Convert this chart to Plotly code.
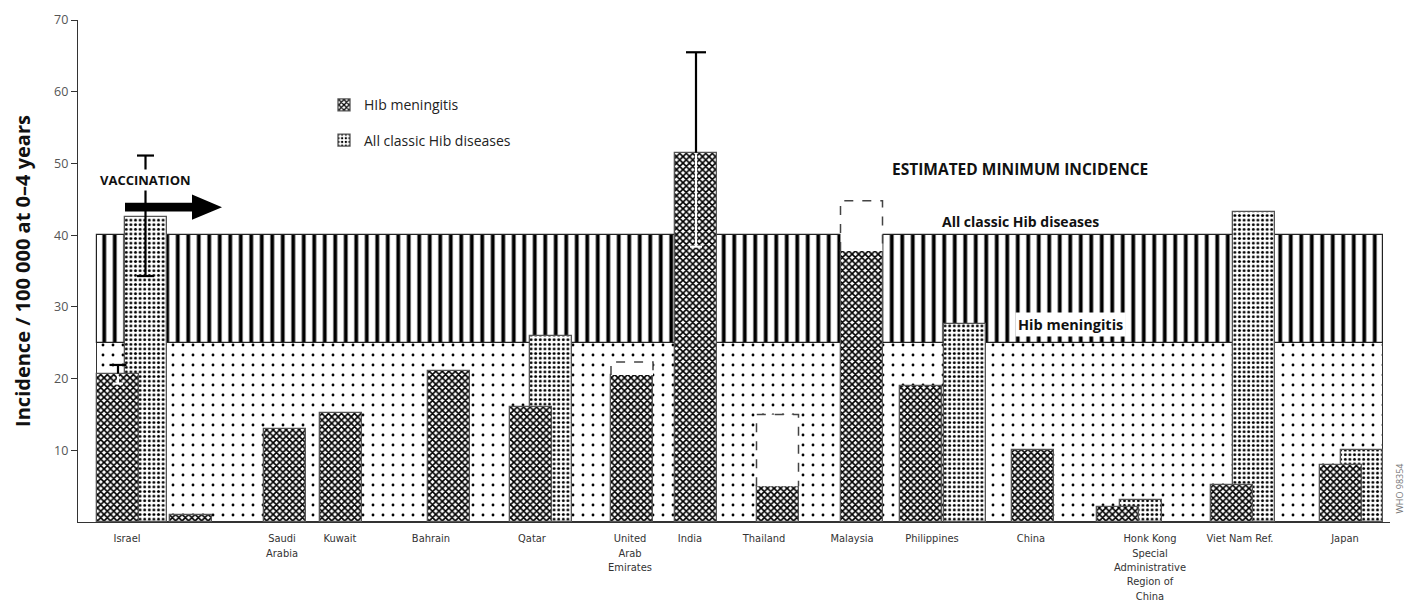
import plotly.graph_objects as go

# ---------------- data ----------------
countries = ["Israel", "", "Saudi<br>Arabia", "Kuwait", "Bahrain", "Qatar",
             "United<br>Arab<br>Emirates", "India", "Thailand", "Malaysia",
             "Philippines", "China",
             "Honk Kong<br>Special<br>Administrative<br>Region of<br>China",
             "Viet Nam Ref.", "Japan"]
meningitis = [20.7, 1.0, 12.9, 15.2, 21.0, 16.0, 20.5, 51.5, 5.0, 37.8, 18.9, 10.0, 2.1, 5.2, 8.0]
all_classic = [42.5, None, None, None, None, 26.0, None, None, None, None, 27.6, None, 3.1, 43.2, 10.1]
meningitis_upper_est = [None, None, None, None, None, None, 22.3, None, 15.0, 44.8, None, None, None, None, None]
meningitis_ci_low = [19.3, None, None, None, None, None, None, 38.4, None, None, None, None, None, None, None]
meningitis_ci_high = [21.9, None, None, None, None, None, None, 65.5, None, None, None, None, None, None, None]
classic_ci_low = [34.3, None, None, None, None, None, None, None, None, None, None, None, None, None, None]
classic_ci_high = [51.1, None, None, None, None, None, None, None, None, None, None, None, None, None, None]
est_min_meningitis = 25.0
est_min_classic = 40.0
y_ticks = [10, 20, 30, 40, 50, 60, 70]

# ---------------- layout positions (x axis in page-pixel-like units) ----------------
group_x = [118, 191, 284.5, 341, 448.5, 530.5, 632, 696, 777.5, 861.5, 920.5, 1033, 1118, 1232, 1341]
classic_dx = [27.5, 0, 0, 0, 0, 20, 0, 0, 0, 0, 44, 0, 23, 21.5, 20.5]
label_x = [127, None, 282, 340, 431, 532, 630, 690, 764, 852, 932, 1031, 1150, 1240, 1345]
BW = 42
X0, X1 = 78, 1390
PAGE_OFF = 8            # default body margin of the page
FIG_W, FIG_H = 1415 - PAGE_OFF, 603 - PAGE_OFF

OUT = "#555555"
FONT = "Open Sans, Noto Sans, sans-serif"
NARROW = "Liberation Sans Narrow, DejaVu Sans Condensed, Roboto, sans-serif"

fig = go.Figure()

# background bands: estimated minimum incidence
band_left = group_x[0] - BW / 2
band_right = group_x[-1] + classic_dx[-1] + BW / 2
band_c = (band_left + band_right) / 2
band_w = band_right - band_left
fig.add_trace(go.Bar(
    x=[band_c], y=[est_min_meningitis], base=[0], width=[band_w],
    marker=dict(color="white", line=dict(color="#333", width=1),
                pattern=dict(shape=".", fgcolor="black", bgcolor="white",
                             size=10, solidity=0.065, fillmode="replace")),
    showlegend=False, hoverinfo="skip"))
fig.add_trace(go.Bar(
    x=[band_c], y=[est_min_classic - est_min_meningitis], base=[est_min_meningitis], width=[band_w],
    marker=dict(color="white", line=dict(color="#222", width=1.2),
                pattern=dict(shape="|", fgcolor="black", bgcolor="white",
                             size=10.5, solidity=0.36, fillmode="replace")),
    showlegend=False, hoverinfo="skip"))

# all classic Hib disease bars (behind meningitis bars)
cx, cy = [], []
for gx, dx, v in zip(group_x, classic_dx, all_classic):
    if v is not None:
        cx.append(gx + dx)
        cy.append(v)
fig.add_trace(go.Bar(
    x=cx, y=cy, width=[BW] * len(cx), name="All classic Hib diseases", legendrank=2,
    legendgroup="b",
    marker=dict(color="white", line=dict(color=OUT, width=1.3),
                pattern=dict(shape=".", fgcolor="black", bgcolor="white",
                             size=4.6, solidity=0.32, fillmode="replace"))))

# meningitis bars
fig.add_trace(go.Bar(
    x=group_x, y=meningitis, width=[BW] * len(group_x), name="HIb meningitis", legendrank=1,
    legendgroup="a",
    marker=dict(color="white", line=dict(color=OUT, width=1.3),
                pattern=dict(shape="x", fgcolor="black", bgcolor="white",
                             size=4.6, solidity=0.58, fillmode="replace"))))

# dashed boxes (upper estimate)
for gx, v, u in zip(group_x, meningitis, meningitis_upper_est):
    if u is None:
        continue
    l, r = gx - BW / 2, gx + BW / 2
    fig.add_trace(go.Scatter(
        x=[l, l, r, r], y=[v, u, u, v], mode="lines", fill="toself", fillcolor="white",
        line=dict(color="#444", width=1.5, dash="dash"), showlegend=False, hoverinfo="skip"))

# error bars
blk_x, blk_y, wht_x, wht_y = [], [], [], []


def add_err(xc, val, lo, hi, cap, white_inside):
    blk_x.extend([xc, xc, None, xc - cap, xc + cap, None])
    blk_y.extend([val if white_inside else lo, hi, None, hi, hi, None])
    if white_inside:
        wht_x.extend([xc, xc, None, xc - cap * 0.6, xc + cap * 0.6, None])
        wht_y.extend([lo, val - 0.25, None, lo, lo, None])
    else:
        blk_x.extend([xc - cap, xc + cap, None])
        blk_y.extend([lo, lo, None])


for i, gx in enumerate(group_x):
    if meningitis_ci_low[i] is not None:
        add_err(gx, meningitis[i], meningitis_ci_low[i], meningitis_ci_high[i],
                10 if i == 7 else 8.5, True)
    if classic_ci_low[i] is not None:
        add_err(gx + classic_dx[i], all_classic[i], classic_ci_low[i], classic_ci_high[i], 8.5, False)

fig.add_trace(go.Scatter(x=blk_x, y=blk_y, mode="lines", line=dict(color="black", width=2.2),
                         showlegend=False, hoverinfo="skip"))
fig.add_trace(go.Scatter(x=wht_x, y=wht_y, mode="lines", line=dict(color="white", width=2.2),
                         showlegend=False, hoverinfo="skip"))

# annotations
ann = []
ann.append(dict(x=145, y=47.7, text="<b>VACCINATION</b>", showarrow=False, bgcolor="white",
                font=dict(family=FONT, size=13, color="#111"), borderpad=1))
ann.append(dict(x=1020, y=49.2, text="<b>ESTIMATED MINIMUM INCIDENCE</b>", showarrow=False,
                font=dict(family=FONT, size=15.5, color="#111")))
ann.append(dict(x=1020, y=41.9, text="<b>All classic Hib diseases</b>", showarrow=False,
                font=dict(family=FONT, size=14, color="#111")))
ann.append(dict(x=1070, y=27.6, text="<b>Hib meningitis</b>", showarrow=False, bgcolor="white",
                font=dict(family=FONT, size=14.5, color="#111"), borderpad=2))
ann.append(dict(xref="paper", x=(1408 - X0) / (X1 - X0), y=4.6, text="WHO 98354", textangle=-90,
                showarrow=False, font=dict(family=FONT, size=9, color="#777")))

# vaccination arrow
yc = 43.9
sh, hh = 0.62, 1.75
arrow_path = (f"M125,{yc - sh} L192,{yc - sh} L192,{yc - hh} L222,{yc} "
              f"L192,{yc + hh} L192,{yc + sh} L125,{yc + sh} Z")

tv = [x for x in label_x if x is not None]
tt = [c for c, x in zip(countries, label_x) if x is not None]

fig.update_layout(
    width=FIG_W, height=FIG_H,
    margin=dict(l=X0 - PAGE_OFF, r=1415 - X1, t=20 - PAGE_OFF, b=81),
    plot_bgcolor="white", paper_bgcolor="white",
    barmode="overlay", bargap=0,
    annotations=ann,
    shapes=[dict(type="path", path=arrow_path, fillcolor="black", line=dict(width=0), layer="above")],
    legend=dict(x=(324 - X0) / (X1 - X0), y=0.862, xanchor="left", yanchor="top",
                font=dict(family=FONT, size=14, color="#222"), tracegroupgap=14,
                bgcolor="rgba(0,0,0,0)"),
    xaxis=dict(range=[X0, X1], showgrid=False, zeroline=False, showline=True, automargin=False,
               linecolor="#333", linewidth=1.2, tickvals=tv, ticktext=tt, ticks="",
               ticklabelstandoff=6,
               tickfont=dict(family=NARROW, size=11, color="#333")),
    yaxis=dict(range=[0, 70], showgrid=False, zeroline=False, showline=True, automargin=False,
               linecolor="#333", linewidth=1.2, tickvals=y_ticks, ticks="outside",
               ticklen=6, tickcolor="#333", tickfont=dict(family=FONT, size=12.5, color="#555"),
               title=dict(text="<b>Incidence / 100 000 at 0–4 years</b>", standoff=18,
                          font=dict(family=FONT, size=20, color="#111"))),
)

fig.write_html("out.html")
